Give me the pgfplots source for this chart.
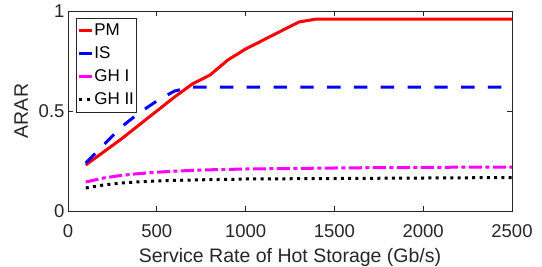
\documentclass[border=0pt]{standalone}
\usepackage{fontspec}
\setmainfont{Liberation Sans}
\usepackage{pgfplots}
\pgfplotsset{compat=1.18}
\definecolor{axgray}{RGB}{38,38,38}
\definecolor{mred}{RGB}{255,0,0}
\definecolor{mblue}{RGB}{0,0,255}
\definecolor{mmag}{RGB}{255,0,255}
\begin{document}
\begin{tikzpicture}[x=1pt,y=1pt]
\begin{axis}[
  at={(0,0)}, anchor=south west,
  scale only axis, width=444pt, height=200pt,
  xmin=0, xmax=2500, ymin=0, ymax=1,
  xtick={0,500,1000,1500,2000,2500},
  ytick={0,0.5,1},
  yticklabels={0,0.5,1},
  scaled x ticks=false,
  /pgf/number format/1000 sep={},
  /pgf/number format/assume math mode=true,
  tick align=inside, major tick length=5pt,
  tick style={axgray, line width=0.6pt},
  axis line style={axgray, line width=0.8pt},
  every tick label/.append style={font=\fontsize{18.5}{22}\selectfont, text=axgray},
  every x tick label/.append style={anchor=base, yshift=-26pt},
  xlabel={Service Rate of Hot Storage (Gb/s)},
  ylabel={ARAR},
  every axis x label/.style={at={(axis description cs:0.5,-0.255)}, anchor=base,
     font=\fontsize{19.5}{23}\selectfont, text=axgray},
  every axis y label/.style={at={(axis description cs:-0.0901,0.5)}, anchor=base, rotate=90,
     font=\fontsize{19.5}{23}\selectfont, text=axgray},
  legend style={at={(axis description cs:0.018,0.966)}, anchor=north west,
    draw=axgray, line width=0.6pt, font=\fontsize{17}{20}\selectfont,
    inner xsep=1.5pt, inner ysep=1pt, row sep=0pt,
    nodes={inner xsep=0.5pt, inner ysep=3pt, text height=13pt, text depth=4pt},
    /tikz/every even column/.append style={column sep=0pt}},
  legend cell align=left,
  legend image code/.code={\draw[#1] (0pt,0pt) -- (13pt,0pt);},
]
\addplot[mred, line width=3pt] coordinates {
(100,0.23) (200,0.295) (300,0.36) (400,0.43) (500,0.50) (600,0.57) (700,0.635)
(800,0.68) (900,0.755) (1000,0.81) (1100,0.855) (1200,0.90) (1300,0.945)
(1400,0.96) (1500,0.96) (1600,0.96) (1700,0.96) (1800,0.96) (1900,0.96)
(2000,0.96) (2100,0.96) (2200,0.96) (2300,0.96) (2400,0.96) (2500,0.96)};
\addlegendentry{PM}
\addplot[mblue, line width=3pt, dash pattern=on 13.4pt off 13.4pt] coordinates {
(100,0.24) (200,0.33) (300,0.42) (400,0.49) (500,0.55) (600,0.60) (700,0.62)
(800,0.62) (900,0.62) (1000,0.62) (1100,0.62) (1200,0.62) (1300,0.62)
(1400,0.62) (1500,0.62) (1600,0.62) (1700,0.62) (1800,0.62) (1900,0.62)
(2000,0.62) (2100,0.62) (2200,0.62) (2300,0.62) (2400,0.62) (2500,0.62)};
\addlegendentry{IS}
\addplot[mmag, line width=3pt, dash pattern=on 13pt off 3.5pt on 4pt off 3.5pt] coordinates {
(100,0.145) (200,0.165) (300,0.178) (400,0.187) (500,0.194) (600,0.199) (700,0.203)
(800,0.206) (900,0.208) (1000,0.21) (1200,0.212) (1400,0.214) (1600,0.216)
(1800,0.217) (2000,0.218) (2200,0.219) (2500,0.22)};
\addlegendentry{GH I}
\addplot[black, line width=3pt, dash pattern=on 3pt off 4.3pt] coordinates {
(100,0.115) (200,0.13) (300,0.14) (400,0.146) (500,0.15) (600,0.153) (700,0.155)
(800,0.157) (900,0.158) (1000,0.16) (1200,0.161) (1400,0.162) (1600,0.163)
(1800,0.164) (2000,0.165) (2200,0.166) (2500,0.167)};
\addlegendentry{GH II}
\end{axis}
\pgfresetboundingbox
\path (-68pt,-55pt) rectangle (474pt,211pt);
\end{tikzpicture}
\end{document}
